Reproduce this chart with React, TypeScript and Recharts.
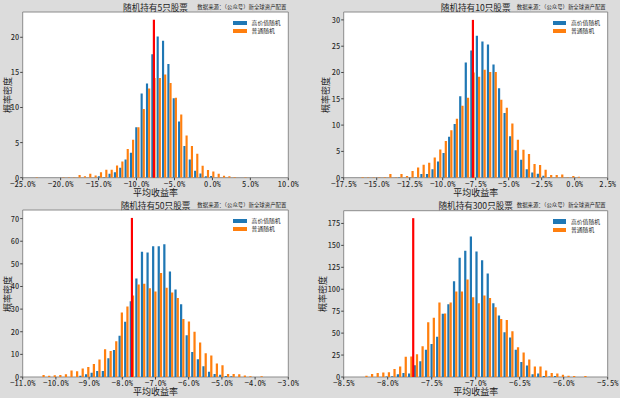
import React from 'react'
import {
  ComposedChart,
  Bar,
  XAxis,
  YAxis,
  CartesianGrid,
  ReferenceLine,
  ReferenceArea,
  Legend,
} from 'recharts'

const CJK = '"Noto Sans CJK SC", "Noto Sans CJK JP", sans-serif'
const TICK_FONT = '"Noto Sans Mono CJK SC", "Noto Sans CJK SC", sans-serif'

const SERIES_NAMES = ['高价值随机', '普通随机']
const SOURCE_NOTE = '数据来源：（公众号）新全球资产配置'
const X_LABEL = '平均收益率'
const Y_LABEL = '概率密度'
const INDEX_RETURN = -7.71 // red line, %

// 5 stocks
const P1_TITLE = '随机持有5只股票'
const P1_FIRST = -23.345 // centre of first bin, %
const P1_STEP = 0.705
const P1_HIGH = [0, 0, 0, 0, 0, 0, 0, 0, 0, 0, 0, 0, 0.19, 0.05, 0.57, 0.78, 1.4, 2.6, 3.55, 7.2, 12.0, 13.4, 17.6, 20.1, 19.5, 16.2, 11.3, 8.0, 4.5, 2.6, 1.0, 0.6, 0.2, 0.25, 0, 0, 0, 0, 0, 0]
const P1_NORMAL = [0.05, 0, 0, 0, 0, 0.05, 0.05, 0.05, 0.38, 0.19, 0.57, 0.33, 0.76, 1.13, 1.13, 1.75, 2.3, 4.1, 5.4, 7.2, 9.8, 12.7, 14.2, 14.2, 14.7, 13.5, 11.4, 9.0, 6.0, 4.5, 3.4, 1.7, 1.1, 0.9, 0.55, 0.28, 0.2, 0.1, 0, 0.05]
const P1_XTICKS = [-25, -20, -15, -10, -5, 0, 5, 10]
const P1_YTICKS = [0, 5, 10, 15, 20]
const P1_YMAX = 23.6
const P1_LINE_TOP = 22.5

// 10 stocks
const P2_TITLE = '随机持有10只股票'
const P2_FIRST = -16.18
const P2_STEP = 0.42
const P2_HIGH = [0, 0, 0, 0, 0, 0, 0, 0.1, 0, 0.05, 0.1, 0.7, 0.7, 1.6, 3.1, 4.7, 7.8, 10.2, 15.5, 21.9, 24.2, 27.0, 25.9, 25.3, 21.5, 17.0, 12.3, 7.9, 5.2, 3.4, 1.6, 1.0, 0.76, 0.35, 0.1, 0, 0, 0, 0, 0]
const P2_NORMAL = [0.15, 0.1, 0.1, 0.1, 0.15, 0.7, 0.1, 0.7, 0.3, 1.26, 1.96, 2.46, 2.84, 3.85, 5.37, 7.0, 9.0, 11.2, 13.7, 15.2, 20.0, 19.2, 20.5, 20.1, 20.1, 14.8, 13.3, 10.3, 7.2, 5.3, 4.5, 2.6, 2.4, 1.5, 0.5, 0.5, 0.6, 0.1, 0.3, 0.2]
const P2_XTICKS = [-17.5, -15, -12.5, -10, -7.5, -5, -2.5, 0, 2.5]
const P2_YTICKS = [0, 5, 10, 15, 20, 25, 30]
const P2_YMAX = 31.5
const P2_LINE_TOP = 30

// 50 stocks
const P3_TITLE = '随机持有50只股票'
const P3_FIRST = -10.418
const P3_STEP = 0.1684
const P3_HIGH = [0, 0, 0, 0, 0, 0, 0, 0.6, 1.2, 1.9, 2.6, 2.6, 8.3, 11.9, 18.2, 24.4, 33.5, 43.5, 55.3, 55.0, 57.8, 57.8, 58.7, 46.6, 38.7, 32.2, 18.4, 11.1, 7.8, 4.7, 2.3, 1.3, 1.0, 0.4, 0.3, 0, 0, 0, 0, 0]
const P3_NORMAL = [0.9, 0.6, 0.8, 0.9, 1.2, 2.9, 2.5, 3.8, 4.4, 5.7, 7.7, 12.3, 11.5, 15.8, 28.5, 31.2, 36, 40.9, 41.2, 39.2, 37.8, 46.0, 39.4, 37.3, 34.9, 25.6, 24.5, 20.0, 15.3, 10.5, 9.5, 6.0, 5.2, 1.3, 1.3, 1.2, 0.7, 0.3, 0, 0.3]
const P3_XTICKS = [-11, -10, -9, -8, -7, -6, -5, -4, -3]
const P3_YTICKS = [0, 10, 20, 30, 40, 50, 60, 70]
const P3_YMAX = 73.8
const P3_LINE_TOP = 70.3

// 300 stocks
const P4_TITLE = '随机持有300只股票'
const P4_FIRST = -8.259
const P4_STEP = 0.06379
const P4_HIGH = [0, 0, 0, 0, 0.5, 0.8, 3, 4.5, 4, 13.5, 18, 31, 37.5, 46, 72, 83, 109, 136, 144, 160, 143, 133, 118, 84, 70, 51, 45, 31, 17, 13, 3, 4, 1, 0.5, 1, 0, 0, 0, 0, 0]
const P4_NORMAL = [1.5, 3.5, 4.5, 5, 5.5, 9, 12, 23, 23.5, 26, 35, 62.5, 67.5, 85, 72.5, 85, 97.5, 97.5, 111, 91, 84, 93, 90, 79.5, 66, 65, 52, 34, 28, 20, 12, 12, 7.5, 4.5, 4, 2.5, 1.5, 1, 0, 1]
const P4_XTICKS = [-8.5, -8, -7.5, -7, -6.5, -6, -5.5]
const P4_YTICKS = [0, 25, 50, 75, 100, 125, 150, 175]
const P4_YMAX = 189.5
const P4_LINE_TOP = 181

const X_AXIS_H = 19.5

const fmtPct = (v: number) => `${v < 0 ? '\u2212' : ''}${Math.abs(v).toFixed(1)}%`

type Box = {
  x: number
  y: number
  w: number
  h: number
  top: number
  right: number
  bottom: number
  yAxisW: number
  yLabelX: number
  xLabelOffset: number
}

interface PanelProps {
  title: string
  first: number
  step: number
  high: number[]
  normal: number[]
  xTicks: number[]
  yTicks: number[]
  yMax: number
  lineTop: number
  box: Box
}

const renderLegend = (props: any) => {
  const items = [...((props.payload || []) as any[])].sort(
    (a, b) => SERIES_NAMES.indexOf(a.value) - SERIES_NAMES.indexOf(b.value)
  )
  return (
    <div style={{ fontFamily: CJK, fontSize: 5.8, color: '#222' }}>
      {items.map(p => (
        <div key={p.value} style={{ display: 'flex', alignItems: 'center', height: 8.3 }}>
          <span style={{ display: 'inline-block', width: 13.3, height: 4.4, background: p.color, marginRight: 5 }} />
          <span style={{ lineHeight: 1 }}>{p.value}</span>
        </div>
      ))}
    </div>
  )
}

function Panel({ title, first, step, high, normal, xTicks, yTicks, yMax, lineTop, box }: PanelProps) {
  const rows = high.map((h, i) => ({
    x: +(first + i * step).toFixed(4),
    high: h,
    normal: normal[i],
  }))
  const xMin = xTicks[0]
  const xMax = xTicks[xTicks.length - 1]
  const plotW = box.w - box.yAxisW - box.right
  const plotCentre = box.yAxisW + plotW / 2
  const plotMidY = (box.top + (box.h - box.bottom - X_AXIS_H)) / 2
  const barSize = (0.4 * step * plotW) / (xMax - xMin)

  return (
    <div style={{ position: 'absolute', left: box.x, top: box.y, width: box.w, height: box.h }}>
      <ComposedChart
        width={box.w}
        height={box.h}
        data={rows}
        barGap={0}
        margin={{ top: box.top, right: box.right, bottom: box.bottom, left: 0 }}
      >
        <CartesianGrid horizontal={false} vertical={false} fill="#ffffff" />
        <XAxis
          type="number"
          dataKey="x"
          domain={[xMin, xMax]}
          ticks={xTicks}
          interval={0}
          allowDataOverflow
          height={X_AXIS_H}
          tickFormatter={fmtPct}
          tick={{ fontSize: 8.4, fill: '#222', fontFamily: TICK_FONT }}
          tickSize={2.5}
          tickMargin={1}
          axisLine={false}
          tickLine={{ stroke: '#444' }}
          label={{
            value: X_LABEL,
            position: 'insideBottom',
            offset: box.xLabelOffset,
            fontSize: 9,
            fill: '#222',
            fontFamily: CJK,
          }}
        />
        <YAxis
          type="number"
          domain={[0, yMax]}
          ticks={yTicks}
          interval={0}
          allowDataOverflow
          width={box.yAxisW}
          tick={{ fontSize: 8.4, fill: '#222', fontFamily: TICK_FONT }}
          tickSize={2.5}
          tickMargin={1}
          axisLine={false}
          tickLine={{ stroke: '#444' }}
        />
        <Bar dataKey="high" name={SERIES_NAMES[0]} fill="#1f77b4" barSize={barSize} isAnimationActive={false} />
        <Bar dataKey="normal" name={SERIES_NAMES[1]} fill="#ff7f0e" barSize={barSize} isAnimationActive={false} />
        <ReferenceLine
          segment={[
            { x: INDEX_RETURN, y: 0 },
            { x: INDEX_RETURN, y: lineTop },
          ]}
          stroke="#ff0000"
          strokeWidth={2.2}
        />
        <ReferenceArea x1={xMin} x2={xMax} y1={0} y2={yMax} fill="none" stroke="#8c8c8c" strokeWidth={1} />
        <Legend
          layout="vertical"
          align="center"
          verticalAlign="middle"
          content={renderLegend}
          wrapperStyle={{ left: box.yAxisW + plotW - 55, top: box.top + 6.8, width: 60 }}
        />
      </ComposedChart>
      <div
        style={{
          position: 'absolute',
          left: box.yLabelX,
          top: plotMidY,
          transform: 'translate(-50%, -50%) rotate(-90deg)',
          fontFamily: CJK,
          fontSize: 9,
          lineHeight: 1,
          color: '#222',
          whiteSpace: 'nowrap',
        }}
      >
        {Y_LABEL}
      </div>
      <div
        style={{
          position: 'absolute',
          left: plotCentre,
          top: 3,
          transform: 'translateX(-50%)',
          fontFamily: CJK,
          fontSize: 8.6,
          lineHeight: 1,
          color: '#222',
          whiteSpace: 'nowrap',
        }}
      >
        {title}
      </div>
      <div
        style={{
          position: 'absolute',
          right: box.right + 2,
          top: 5,
          fontFamily: CJK,
          fontSize: 5.4,
          lineHeight: 1,
          color: '#222',
          whiteSpace: 'nowrap',
        }}
      >
        {SOURCE_NOTE}
      </div>
    </div>
  )
}

export default function App() {
  return (
    <div
      style={{
        position: 'absolute',
        left: 0,
        top: 0,
        width: 620,
        height: 398,
        background: '#dcdcdc',
        overflow: 'hidden',
      }}
    >
      <Panel
        title={P1_TITLE}
        first={P1_FIRST}
        step={P1_STEP}
        high={P1_HIGH}
        normal={P1_NORMAL}
        xTicks={P1_XTICKS}
        yTicks={P1_YTICKS}
        yMax={P1_YMAX}
        lineTop={P1_LINE_TOP}
        box={{ x: 0, y: 0, w: 310, h: 199, top: 12, right: 21.7, bottom: 1.8, yAxisW: 22.7, yLabelX: 7, xLabelOffset: 1 }}
      />
      <Panel
        title={P2_TITLE}
        first={P2_FIRST}
        step={P2_STEP}
        high={P2_HIGH}
        normal={P2_NORMAL}
        xTicks={P2_XTICKS}
        yTicks={P2_YTICKS}
        yMax={P2_YMAX}
        lineTop={P2_LINE_TOP}
        box={{ x: 310, y: 0, w: 310, h: 199, top: 12, right: 12.3, bottom: 1.8, yAxisW: 33.7, yLabelX: 15, xLabelOffset: 1 }}
      />
      <Panel
        title={P3_TITLE}
        first={P3_FIRST}
        step={P3_STEP}
        high={P3_HIGH}
        normal={P3_NORMAL}
        xTicks={P3_XTICKS}
        yTicks={P3_YTICKS}
        yMax={P3_YMAX}
        lineTop={P3_LINE_TOP}
        box={{ x: 0, y: 198, w: 310, h: 200, top: 12, right: 21.7, bottom: 1.5, yAxisW: 22.7, yLabelX: 7, xLabelOffset: 2 }}
      />
      <Panel
        title={P4_TITLE}
        first={P4_FIRST}
        step={P4_STEP}
        high={P4_HIGH}
        normal={P4_NORMAL}
        xTicks={P4_XTICKS}
        yTicks={P4_YTICKS}
        yMax={P4_YMAX}
        lineTop={P4_LINE_TOP}
        box={{ x: 310, y: 198, w: 310, h: 200, top: 12.7, right: 12.3, bottom: 1.5, yAxisW: 33.7, yLabelX: 12, xLabelOffset: 2 }}
      />
    </div>
  )
}
